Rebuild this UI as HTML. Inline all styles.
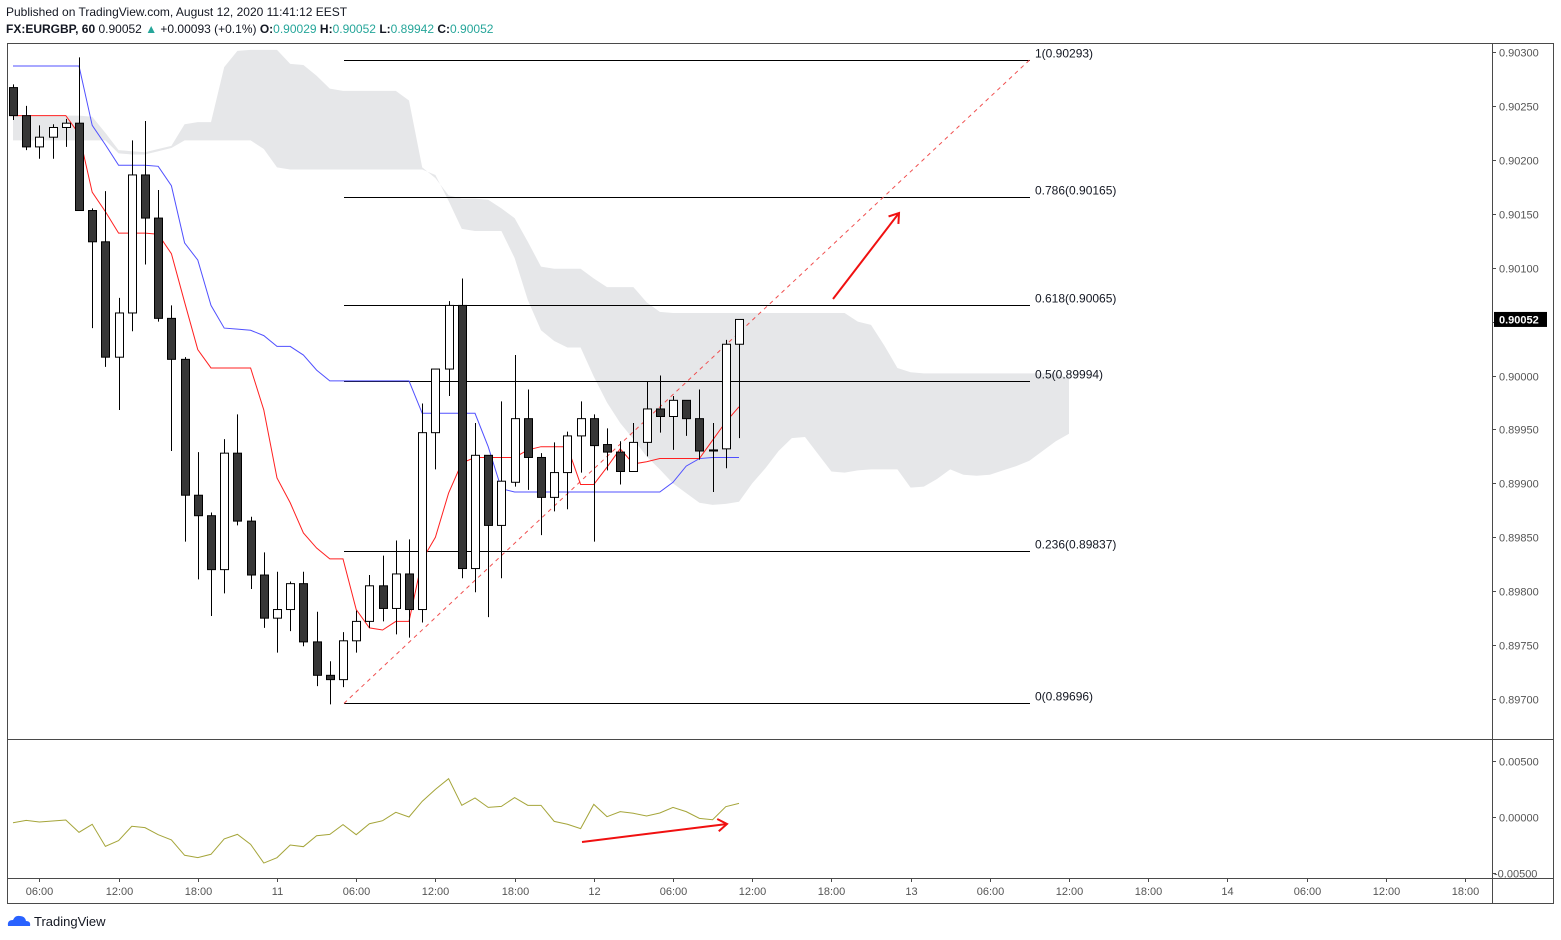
<!DOCTYPE html>
<html><head><meta charset="utf-8">
<style>
html,body{margin:0;padding:0;background:#fff;}
body{width:1561px;height:940px;overflow:hidden;position:relative;font-family:"Liberation Sans",sans-serif;}
.hdr{position:absolute;left:6px;font-size:12px;color:#131722;white-space:nowrap;}
.t{color:#26a69a;}
#chart{position:absolute;left:0;top:0;}
</style></head><body>
<div class="hdr" style="top:5px;">Published on TradingView.com, August 12, 2020 11:41:12 EEST</div>
<div class="hdr" style="top:22px;"><b>FX:EURGBP, 60</b> 0.90052 <span class="t">▲</span> +0.00093 (+0.1%) <b>O:</b><span class="t">0.90029</span> <b>H:</b><span class="t">0.90052</span> <b>L:</b><span class="t">0.89942</span> <b>C:</b><span class="t">0.90052</span></div>
<svg id="chart" width="1561" height="940" xmlns="http://www.w3.org/2000/svg"></svg>
<div style="position:absolute;left:6px;top:912px;height:18px;font-size:13px;color:#131722;display:flex;align-items:center;">
<svg width="26" height="16"><path d="M2 13 Q1 7 7 7 Q9 2 14 3 Q19 3 20 8 Q25 8 24 13 Z" fill="#2962ff"/></svg><span style="margin-left:2px;">TradingView</span></div>
<script>
const opens=[0.90267,0.90241,0.90212,0.90221,0.90230,0.90234,0.90153,0.90124,0.90017,0.90058,0.90186,0.90146,0.90053,0.90015,0.89889,0.89870,0.89820,0.89928,0.89865,0.89815,0.89775,0.89783,0.89807,0.89753,0.89722,0.89718,0.89754,0.89772,0.89805,0.89784,0.89816,0.89783,0.89947,0.90006,0.90065,0.89821,0.89926,0.89861,0.89901,0.89960,0.89924,0.89887,0.89910,0.89944,0.89960,0.89936,0.89929,0.89911,0.89938,0.89969,0.89962,0.89977,0.89960,0.89931,0.89932,0.90029];
const highs=[0.90270,0.90250,0.90232,0.90233,0.90238,0.90295,0.90155,0.90171,0.90072,0.90218,0.90236,0.90172,0.90065,0.90017,0.89929,0.89873,0.89941,0.89964,0.89869,0.89836,0.89818,0.89809,0.89818,0.89781,0.89735,0.89762,0.89782,0.89815,0.89833,0.89847,0.89848,0.89974,0.90006,0.90069,0.90090,0.89956,0.89926,0.89976,0.90019,0.89987,0.89928,0.89938,0.89948,0.89976,0.89964,0.89951,0.89939,0.89956,0.89994,0.90000,0.89981,0.89977,0.89987,0.89956,0.90033,0.90052];
const lows=[0.90237,0.90209,0.90201,0.90201,0.90212,0.90153,0.90044,0.90008,0.89968,0.90041,0.90103,0.90050,0.89930,0.89846,0.89811,0.89777,0.89798,0.89861,0.89802,0.89766,0.89743,0.89763,0.89749,0.89712,0.89695,0.89711,0.89743,0.89766,0.89772,0.89760,0.89757,0.89771,0.89913,0.89981,0.89812,0.89799,0.89776,0.89812,0.89897,0.89894,0.89852,0.89874,0.89876,0.89910,0.89846,0.89912,0.89899,0.89911,0.89925,0.89947,0.89931,0.89944,0.89922,0.89892,0.89914,0.89942];
const closes=[0.90241,0.90212,0.90221,0.90230,0.90234,0.90153,0.90124,0.90017,0.90058,0.90186,0.90146,0.90053,0.90015,0.89889,0.89870,0.89820,0.89928,0.89865,0.89815,0.89775,0.89783,0.89807,0.89753,0.89722,0.89718,0.89754,0.89772,0.89805,0.89784,0.89816,0.89783,0.89947,0.90006,0.90065,0.89821,0.89926,0.89861,0.89902,0.89960,0.89924,0.89887,0.89910,0.89944,0.89960,0.89935,0.89929,0.89911,0.89938,0.89969,0.89962,0.89977,0.89960,0.89930,0.89930,0.90029,0.90052];
const tenkan=[0.90241,0.90241,0.90241,0.90241,0.90241,0.90224,0.90170,0.90152,0.90132,0.90132,0.90132,0.90131,0.90113,0.90068,0.90024,0.90007,0.90007,0.90007,0.90007,0.89968,0.89905,0.89882,0.89854,0.89840,0.89830,0.89830,0.89783,0.89766,0.89764,0.89772,0.89772,0.89829,0.89850,0.89891,0.89919,0.89924,0.89924,0.89924,0.89924,0.89931,0.89934,0.89934,0.89934,0.89899,0.89899,0.89915,0.89932,0.89918,0.89920,0.89923,0.89923,0.89923,0.89923,0.89940,0.89957,0.89971];
const kijun=[0.90287,0.90287,0.90287,0.90287,0.90287,0.90287,0.90232,0.90214,0.90195,0.90195,0.90195,0.90194,0.90176,0.90123,0.90107,0.90065,0.90044,0.90043,0.90042,0.90037,0.90027,0.90027,0.90019,0.90005,0.89995,0.89995,0.89995,0.89995,0.89995,0.89995,0.89995,0.89965,0.89965,0.89965,0.89965,0.89965,0.89934,0.89895,0.89892,0.89892,0.89892,0.89892,0.89892,0.89892,0.89892,0.89892,0.89892,0.89892,0.89892,0.89892,0.89901,0.89916,0.89923,0.89924,0.89924,0.89924];
const cloudUpper=[0.90241,0.90241,0.90241,0.90241,0.90241,0.90241,0.90240,0.90225,0.90209,0.90208,0.90207,0.90210,0.90213,0.90233,0.90235,0.90235,0.90286,0.90301,0.90302,0.90302,0.90302,0.90289,0.90288,0.90278,0.90266,0.90264,0.90264,0.90264,0.90264,0.90264,0.90255,0.90193,0.90183,0.90167,0.90164,0.90164,0.90163,0.90155,0.90146,0.90124,0.90101,0.90099,0.90099,0.90099,0.90090,0.90082,0.90082,0.90082,0.90068,0.90059,0.90058,0.90058,0.90058,0.90058,0.90058,0.90058,0.90058,0.90058,0.90058,0.90058,0.90058,0.90058,0.90058,0.90058,0.90050,0.90047,0.90028,0.90007,0.90003,0.90002,0.90002,0.90002,0.90002,0.90002,0.90002,0.90002,0.90002,0.90002,0.90002,0.90002,0.89997];
const cloudLower=[0.90218,0.90218,0.90218,0.90218,0.90218,0.90218,0.90218,0.90218,0.90206,0.90205,0.90205,0.90208,0.90211,0.90218,0.90218,0.90218,0.90218,0.90218,0.90218,0.90210,0.90193,0.90191,0.90191,0.90191,0.90191,0.90191,0.90191,0.90191,0.90191,0.90191,0.90191,0.90191,0.90186,0.90162,0.90136,0.90134,0.90134,0.90134,0.90109,0.90070,0.90042,0.90032,0.90026,0.90026,0.89999,0.89975,0.89956,0.89941,0.89925,0.89913,0.89900,0.89891,0.89882,0.89880,0.89881,0.89883,0.89900,0.89914,0.89930,0.89942,0.89943,0.89927,0.89911,0.89910,0.89912,0.89913,0.89913,0.89913,0.89896,0.89897,0.89904,0.89913,0.89908,0.89907,0.89908,0.89912,0.89916,0.89921,0.89930,0.89939,0.89946];
const oscValues=[-0.00051,-0.00030,-0.00045,-0.00036,-0.00027,-0.00137,-0.00065,-0.00262,-0.00211,-0.00083,-0.00095,-0.00158,-0.00205,-0.00342,-0.00363,-0.00333,-0.00196,-0.00155,-0.00244,-0.00411,-0.00363,-0.00250,-0.00265,-0.00167,-0.00155,-0.00068,-0.00158,-0.00060,-0.00033,0.00042,0.00000,0.00140,0.00247,0.00342,0.00104,0.00170,0.00086,0.00095,0.00173,0.00104,0.00104,-0.00039,-0.00065,-0.00104,0.00113,0.00003,0.00048,0.00033,0.00009,0.00036,0.00086,0.00048,-0.00012,-0.00024,0.00092,0.00122];
const fibLevels=[1,0.786,0.618,0.5,0.236,0];
const fibLow=0.89696, fibHigh=0.90293;
const priceTicks=[0.90300,0.90250,0.90200,0.90150,0.90100,0.90050,0.90000,0.89950,0.89900,0.89850,0.89800,0.89750,0.89700];
const oscTicks=[0.005,0,-0.005];
const timeLabels=["06:00","12:00","18:00","11","06:00","12:00","18:00","12","06:00","12:00","18:00","13","06:00","12:00","18:00","14","06:00","12:00","18:00"];
const timeLabelHours=[2,8,14,20,26,32,38,44,50,56,62,68,74,80,86,92,98,104,110];
const lastPrice=0.90052;

const NS="http://www.w3.org/2000/svg";
const svg=document.getElementById('chart');
const X=i=>13+13.2*i;
const Y=p=>52+(0.903-p)/0.0005*53.92;
const OY=v=>817-v/0.005*56;
function el(tag,attrs,parent){const e=document.createElementNS(NS,tag);for(const k in attrs)e.setAttribute(k,attrs[k]);(parent||svg).appendChild(e);return e;}

let f=el('rect',{x:7.5,y:43.5,width:1546,height:860,fill:'none',stroke:'#4a4a4a','stroke-width':1});


let s1=el('line',{x1:1492.5,y1:43,x2:1492.5,y2:903,stroke:'#4a4a4a'});


let s2=el('line',{x1:7,y1:739.5,x2:1554,y2:739.5,stroke:'#4a4a4a'});


let s3=el('line',{x1:7,y1:878.5,x2:1554,y2:878.5,stroke:'#4a4a4a'});



const cloudTop=cloudUpper.map((p,i)=>X(i)+','+Y(p));
const cloudBot=cloudLower.map((p,i)=>X(i)+','+Y(p)).reverse();
let cl=el('polygon',{points:cloudTop.concat(cloudBot).join(' '),fill:'#e6e7e9'});



fibLevels.forEach(l=>{
  const p=fibLow+(fibHigh-fibLow)*l;
  const y=Math.round(Y(p))+0.5;
  const ln=el('line',{x1:344,y1:y,x2:1030,y2:y,stroke:'#000','stroke-width':1});
  
  
  const t=el('text',{x:1035,y:y-3,'font-size':12,fill:'#131722'});
  t.textContent=l+'('+p.toFixed(5)+')';
  
  
});
let tl=el('line',{x1:344,y1:Y(fibLow),x2:1030,y2:Y(fibHigh),stroke:'#f05050','stroke-width':1,'stroke-dasharray':'4,4'});



function poly(arr,fn,color,name){const pl=el('polyline',{points:arr.map((v,i)=>X(i)+','+fn(v)).join(' '),fill:'none',stroke:color,'stroke-width':1});}
poly(kijun,Y,'#5050ff','kijun-line');
poly(tenkan,Y,'#ff2020','tenkan-line');

opens.forEach((o,i)=>{
  const c=closes[i],x=Math.round(X(i))+0.5;
  const w=el('line',{x1:x,y1:Y(highs[i]),x2:x,y2:Y(lows[i]),stroke:'#000','stroke-width':1});
  
  
  const yt=Y(Math.max(o,c)),yb=Y(Math.min(o,c));
  const b=el('rect',{x:x-4,y:yt,width:8,height:Math.max(1,yb-yt),fill:c>=o?'#fff':'#363636',stroke:'#000','stroke-width':1});
  
  
});

poly(oscValues,OY,'#a5a53a','oscillator-line');

function arrow(x1,y1,x2,y2,name){
  const g=el('g',{stroke:'#f01010','stroke-width':2,fill:'none'});
  
  
  el('line',{x1,y1,x2,y2},g);
  const a=Math.atan2(y2-y1,x2-x1),L=11;
  el('polyline',{points:(x2-L*Math.cos(a-0.6))+','+(y2-L*Math.sin(a-0.6))+' '+x2+','+y2+' '+(x2-L*Math.cos(a+0.6))+','+(y2-L*Math.sin(a+0.6))},g);
}
arrow(833,299,899,213,'bullish-arrow');
arrow(582,842,727,824,'divergence-arrow');

priceTicks.forEach(p=>{
  const y=Math.round(Y(p))+0.5;
  const tk=el('line',{x1:1492,y1:y,x2:1496,y2:y,stroke:'#4a4a4a'});
  
  
  const t=el('text',{x:1499,y:y+4,'font-size':11,fill:'#555'});
  t.textContent=p.toFixed(5);
  
  
});
oscTicks.forEach(v=>{
  const y=Math.round(OY(v))+0.5;
  const tk=el('line',{x1:1492,y1:y,x2:1496,y2:y,stroke:'#4a4a4a'});
  
  
  const t=el('text',{x:v<0?1494:1499,y:y+4,'font-size':11,fill:'#555'});
  t.textContent=v.toFixed(5);
  
  
});
const ly=Y(lastPrice);
const lb=el('rect',{x:1494,y:ly-7.5,width:53,height:15,fill:'#000'});


const lt=el('text',{x:1499,y:ly+4,'font-size':11,fill:'#fff','font-weight':'bold'});
lt.textContent=lastPrice.toFixed(5);



timeLabels.forEach((s,i)=>{
  const x=Math.round(X(timeLabelHours[i]))+0.5;
  const tk=el('line',{x1:x,y1:878,x2:x,y2:882,stroke:'#4a4a4a'});
  
  
  const t=el('text',{x:x,y:895,'font-size':11,fill:'#555','text-anchor':'middle'});
  t.textContent=s;
  
  
});
</script>
</body></html>
